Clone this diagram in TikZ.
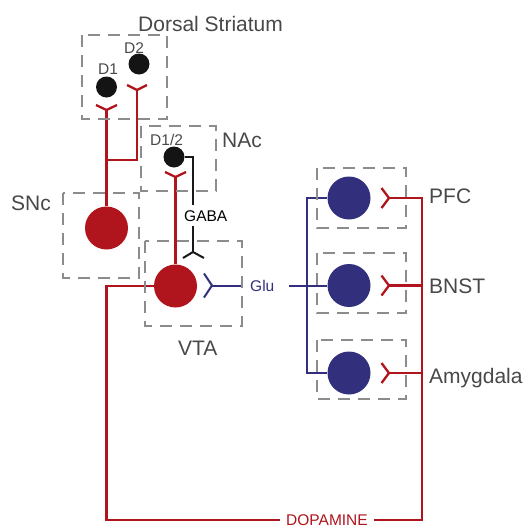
\documentclass[tikz,border=0pt]{standalone}
\usepackage{fontspec}
\setmainfont{Liberation Sans}
\definecolor{dred}{RGB}{176,20,28}
\definecolor{dblue}{RGB}{50,48,125}
\definecolor{dgray}{RGB}{140,140,140}
\definecolor{tgray}{RGB}{72,72,72}
\begin{document}
\begin{tikzpicture}[x=1pt,y=-1pt,
  redl/.style={draw=dred,line width=2.3pt},
  bluel/.style={draw=dblue,line width=2pt},
  blackl/.style={draw=black!90,line width=2pt},
  dbox/.style={draw=dgray,line width=2pt,dash pattern=on 12pt off 8pt},
  bigred/.style={circle,fill=dred,minimum size=43pt,inner sep=0pt},
  bigblue/.style={circle,fill=dblue,minimum size=43pt,inner sep=0pt},
  smallblk/.style={circle,fill=black!92,minimum size=21pt,inner sep=0pt},
  biglab/.style={text=tgray,font=\fontsize{21}{24}\selectfont,inner sep=0pt,anchor=base west},
  smalllab/.style={font=\fontsize{15.5}{18}\selectfont,inner sep=0pt,anchor=base west}]
\useasboundingbox (0,0) rectangle (528,528);

% neurons
\node[smallblk] (d1) at (106.5,87) {};
\node[smallblk] (d2) at (139,64) {};
\node[smallblk] (d12) at (174,157) {};
\node[bigred] (snc) at (106.5,228) {};
\node[bigred] (vta) at (175.5,286) {};
\node[bigblue] (pfc) at (349,198) {};
\node[bigblue] (bnst) at (349,285.5) {};
\node[bigblue] (amy) at (349,373) {};

% synapse apex coordinates
\coordinate (s1) at (106.5,110);
\coordinate (s2) at (137,90);
\coordinate (s3) at (175.5,177);
\coordinate (join) at (106.5,160);
\coordinate (ga) at (193,205);
\coordinate (gb) at (193,226);
\coordinate (sg) at (193,252);
\coordinate (sv) at (212,285.5);
\coordinate (gluA) at (242,285.5);
\coordinate (gluB) at (289,285.5);
\coordinate (bx) at (307,285.5);
\coordinate (sp) at (389,198);
\coordinate (sb) at (389,285.5);
\coordinate (sa) at (389,373);
\coordinate (rx) at (422,198);
\coordinate (rb) at (422,520);
\coordinate (lb) at (106.5,520);
\coordinate (lv) at (106.5,286);

% texts
\node[biglab] (tds) at (138,31) {Dorsal Striatum};
\node[biglab] (tnac) at (222,147) {NAc};
\node[biglab] (tsnc) at (11,210) {SNc};
\node[biglab] (tvta) at (178,355) {VTA};
\node[biglab] (tpfc) at (429,203) {PFC};
\node[biglab] (tbnst) at (429,293) {BNST};
\node[biglab] (tamy) at (429,383) {Amygdala};
\node[smalllab,text=tgray] (td1) at (98,74) {D1};
\node[smalllab,text=tgray] (td2) at (124,53) {D2};
\node[smalllab,text=tgray] (td12) at (150,145) {D1/2};
\node[smalllab,text=black] (tgaba) at (184,221) {GABA};
\node[smalllab,text=dblue] (tglu) at (250,291.5) {Glu};

% red dopamine pathways
\draw[redl] (snc.north) -- (s1);
\draw[redl] (s2) |- (join);
\draw[redl] (s1) ++(-10.5,-5) -- (s1) -- ++(10.5,-5);
\draw[redl] (s2) ++(-10,-5) -- (s2) -- ++(10,-5);
\draw[redl] (vta.north) -- (s3);
\draw[redl] (s3) ++(-10.5,-5) -- (s3) -- ++(10.5,-5);
\draw[redl] (vta.west) -- (lv) -- (lb) -- (rb) -- (rx) -- (sp);
\draw[redl] (sb) -- (sb -| rx);
\draw[redl] (sa) -- (sa -| rx);
\foreach \s in {sp,sb,sa}
  \draw[redl] (\s) ++(-7.5,-10) -- (\s) -- ++(-7.5,10);
\node[text=dred,font=\fontsize{15.5}{18}\selectfont,fill=white,inner xsep=6pt,inner ysep=0.5pt,anchor=base] (tdop) at (327,525) {DOPAMINE};

% GABA
\draw[blackl] (d12.east) -| (ga);
\draw[blackl] (gb) -- (sg);
\draw[blackl] (sg) ++(-10,6) -- (sg) -- ++(11,6);

% Glu
\draw[bluel] (sv) ++(-8,-12) -- (sv) -- ++(-8,12);
\draw[bluel] (sv) -- (gluA);
\draw[bluel] (gluB) -- (bnst.west);
\draw[bluel] (pfc.west) -| (bx) |- (amy.west);

% dashed regions
\draw[dbox] (82,35) rectangle (167,119);
\draw[dbox] (141,126) rectangle (216,191);
\draw[dbox] (63,193) rectangle (139,278);
\draw[dbox] (145,241) rectangle (242,326);
\draw[dbox] (317,168) rectangle (406,228);
\draw[dbox] (317,253) rectangle (406,313);
\draw[dbox] (317,340) rectangle (406,399);
\end{tikzpicture}
\end{document}
